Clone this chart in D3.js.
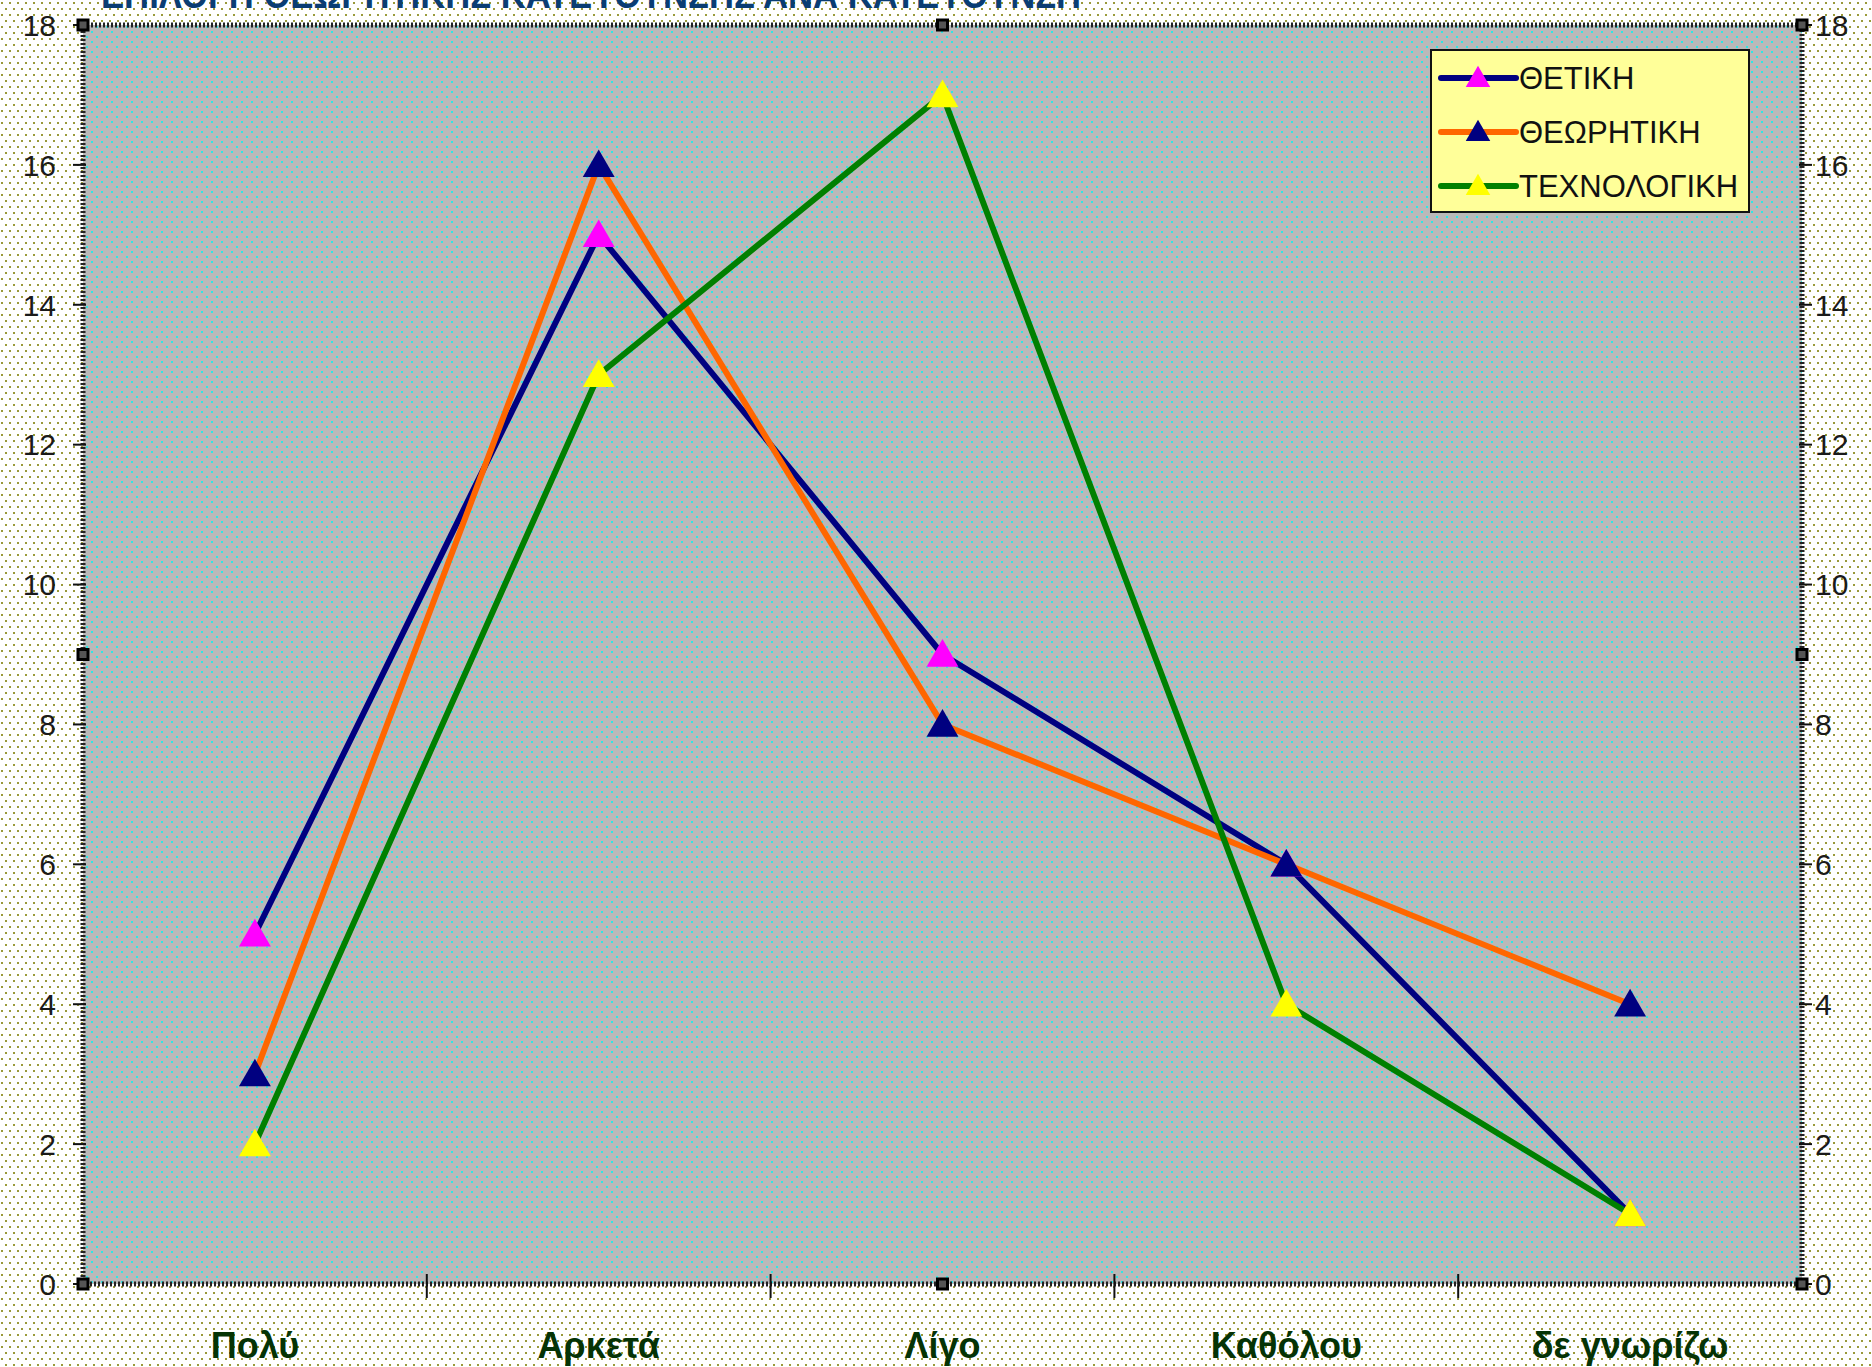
<!DOCTYPE html>
<meta charset="utf-8">
<script src="https://cdn.jsdelivr.net/npm/d3@7"></script>
<style>
body { margin: 0; background: #fff; }
text { font-family: "Liberation Sans", Arial, sans-serif; }
.tick-label { font-size: 30px; fill: #1a1a1a; }
.cat-label { font-size: 36px; font-weight: bold; fill: #053305; }
.legend-text { font-size: 31px; fill: #111; }
</style>
<body>
<script>

// data
var categories = ["Πολύ", "Αρκετά", "Λίγο", "Καθόλου", "δε γνωρίζω"];
var seriesNames = ["ΘΕΤΙΚΗ", "ΘΕΩΡΗΤΙΚΗ", "ΤΕΧΝΟΛΟΓΙΚΗ"];
var thetiki = [5, 15, 9, 6, 1];
var theoritiki = [3, 16, 8, 6, 4];
var technologiki = [2, 13, 17, 4, 1];
var yTicks = [0, 2, 4, 6, 8, 10, 12, 14, 16, 18];
var title = "ΕΠΙΛΟΓΗ ΘΕΩΡΗΤΙΚΗΣ ΚΑΤΕΥΘΥΝΣΗΣ ΑΝΑ ΚΑΤΕΥΘΥΝΣΗ";

var lineColors = ["#000080", "#ff6600", "#008000"];
var markerColors = ["#ff00ff", "#000080", "#ffff00"];
var allSeries = [thetiki, theoritiki, technologiki];

var W = 1872, H = 1367;
var plot = {left: 83, right: 1802, top: 25, bottom: 1284};

var svg = d3.select("body").append("svg")
    .attr("width", W)
    .attr("height", H);

// dotted fills
var defs = svg.append("defs");
var pOut = defs.append("pattern").attr("id", "outer")
    .attr("patternUnits", "userSpaceOnUse")
    .attr("width", 8).attr("height", 12);
pOut.append("rect").attr("width", 8).attr("height", 12).attr("fill", "#ffffff");
pOut.append("rect").attr("x", 1).attr("y", 2).attr("width", 2).attr("height", 2).attr("fill", "#9a9a3a");
pOut.append("rect").attr("x", 5).attr("y", 8).attr("width", 2).attr("height", 2).attr("fill", "#9a9a3a");

var pIn = defs.append("pattern").attr("id", "inner")
    .attr("patternUnits", "userSpaceOnUse")
    .attr("width", 10).attr("height", 10);
pIn.append("rect").attr("width", 10).attr("height", 10).attr("fill", "#b9b9b9");
pIn.append("rect").attr("x", 1).attr("y", 1).attr("width", 2).attr("height", 2).attr("fill", "#2ee6e6");
pIn.append("rect").attr("x", 6).attr("y", 6).attr("width", 2).attr("height", 2).attr("fill", "#2ee6e6");

svg.append("rect").attr("width", W).attr("height", H).attr("fill", "url(#outer)");

// title, cut off at the top edge as in the original
svg.append("text")
    .attr("x", 101)
    .attr("y", 8)
    .attr("textLength", 980)
    .attr("lengthAdjust", "spacingAndGlyphs")
    .style("font-size", "38px")
    .style("font-weight", "bold")
    .style("fill", "#0a3d73")
    .text(title);

var x = d3.scaleBand().domain(categories).range([plot.left, plot.right]);
var y = d3.scaleLinear().domain([0, 18]).range([plot.bottom, plot.top]);

svg.append("rect")
    .attr("x", plot.left).attr("y", plot.top)
    .attr("width", plot.right - plot.left)
    .attr("height", plot.bottom - plot.top)
    .attr("fill", "url(#inner)");

// hatched border of the plot area
svg.append("rect")
    .attr("x", plot.left).attr("y", plot.top)
    .attr("width", plot.right - plot.left)
    .attr("height", plot.bottom - plot.top)
    .attr("fill", "none")
    .attr("stroke", "#222")
    .attr("stroke-width", 5)
    .attr("stroke-dasharray", "2,2");

// y ticks, both sides
yTicks.forEach(function(t) {
    svg.append("line")
        .attr("x1", plot.left - 10).attr("x2", plot.left + 3)
        .attr("y1", y(t)).attr("y2", y(t))
        .attr("stroke", "#111").attr("stroke-width", 2);
    svg.append("line")
        .attr("x1", plot.right - 3).attr("x2", plot.right + 10)
        .attr("y1", y(t)).attr("y2", y(t))
        .attr("stroke", "#111").attr("stroke-width", 2);
    svg.append("text")
        .attr("class", "tick-label")
        .attr("x", 56).attr("y", y(t))
        .attr("dy", "0.36em")
        .attr("text-anchor", "end")
        .text(t);
    svg.append("text")
        .attr("class", "tick-label")
        .attr("x", 1815).attr("y", y(t))
        .attr("dy", "0.36em")
        .text(t);
});

// category ticks at band edges
categories.slice(1).forEach(function(c) {
    svg.append("line")
        .attr("x1", x(c)).attr("x2", x(c))
        .attr("y1", plot.bottom - 10).attr("y2", plot.bottom + 14)
        .attr("stroke", "#111").attr("stroke-width", 2);
});

svg.selectAll(".cat-label")
    .data(categories)
    .enter().append("text")
    .attr("class", "cat-label")
    .attr("x", function(d) { return x(d) + x.bandwidth() / 2; })
    .attr("y", 1358)
    .attr("text-anchor", "middle")
    .text(function(d) { return d; });

// lines
var line = d3.line()
    .x(function(d, i) { return x(categories[i]) + x.bandwidth() / 2; })
    .y(function(d) { return y(d); });

allSeries.forEach(function(s, k) {
    svg.append("path")
        .datum(s)
        .attr("d", line)
        .attr("fill", "none")
        .attr("stroke", lineColors[k])
        .attr("stroke-width", 6)
        .attr("stroke-linejoin", "round");
});

var tri = d3.symbol().type(d3.symbolTriangle).size(440);

allSeries.forEach(function(s, k) {
    svg.selectAll(".mk" + k)
        .data(s)
        .enter().append("path")
        .attr("class", "mk" + k)
        .attr("d", tri)
        .attr("transform", function(d, i) {
            return "translate(" + (x(categories[i]) + x.bandwidth() / 2) + "," + (y(d) + 3) + ")";
        })
        .attr("fill", markerColors[k]);
});

// legend
var lg = svg.append("g").attr("transform", "translate(1431,50)");
lg.append("rect")
    .attr("width", 318).attr("height", 162)
    .attr("fill", "#ffff99")
    .attr("stroke", "#111").attr("stroke-width", 2);

seriesNames.forEach(function(name, k) {
    var row = lg.append("g").attr("transform", "translate(0," + (28 + k * 54) + ")");
    row.append("line")
        .attr("x1", 10).attr("x2", 85)
        .attr("stroke", lineColors[k]).attr("stroke-width", 6)
        .attr("stroke-linecap", "round");
    row.append("path")
        .attr("d", d3.symbol().type(d3.symbolTriangle).size(260))
        .attr("transform", "translate(47,2)")
        .attr("fill", markerColors[k]);
    row.append("text")
        .attr("class", "legend-text")
        .attr("x", 88).attr("dy", "0.36em")
        .text(name);
});

// selection handles of the plot area
var hx = [plot.left, (plot.left + plot.right) / 2, plot.right];
var hy = [plot.top, (plot.top + plot.bottom) / 2, plot.bottom];
hx.forEach(function(a, i) {
    hy.forEach(function(b, j) {
        if (i == 1 && j == 1) return;
        svg.append("rect")
            .attr("x", a - 5).attr("y", b - 5)
            .attr("width", 10).attr("height", 10)
            .attr("fill", "#555")
            .attr("stroke", "#000").attr("stroke-width", 3);
    });
});

</script>
</body>
</html>
